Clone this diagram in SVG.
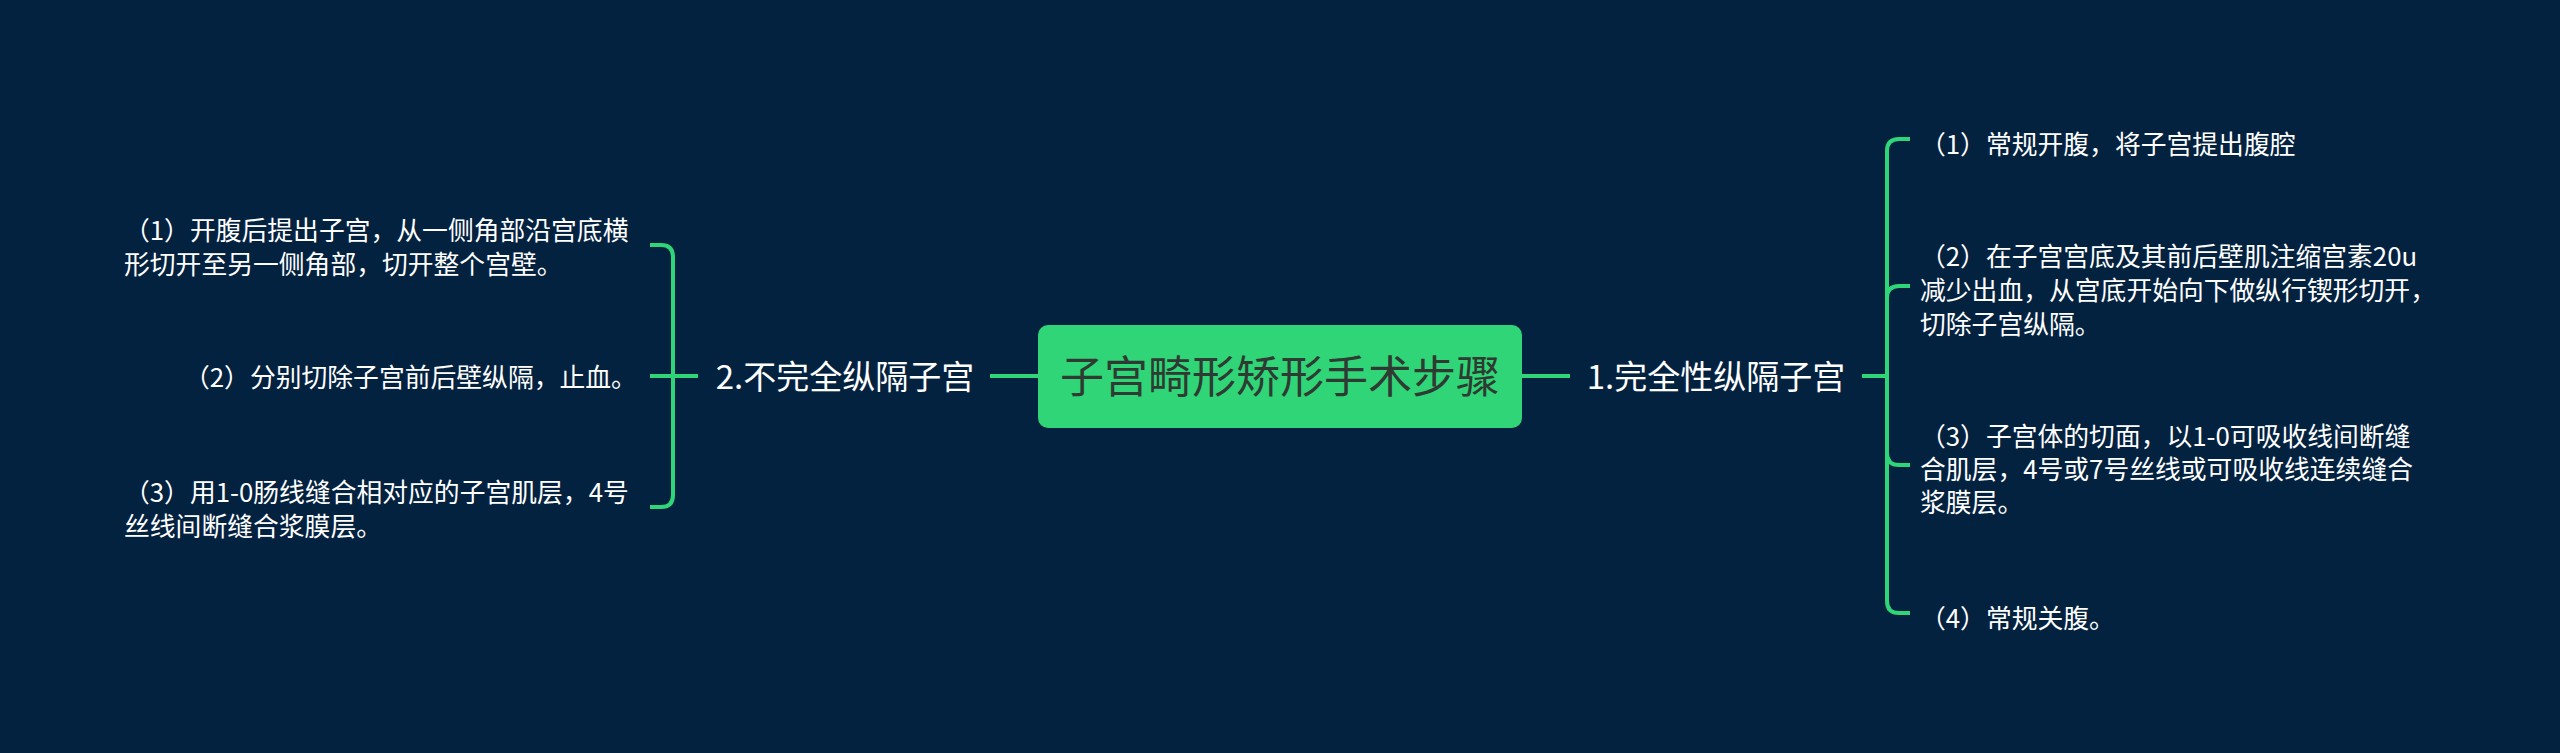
<svg xmlns="http://www.w3.org/2000/svg" width="2560" height="753" viewBox="0 0 2560 753">
<style>
.bg{fill:#03223f}
.ln{fill:none;stroke:#2fd576;stroke-width:4;stroke-linecap:butt}
.t{font-family:"Noto Sans CJK SC","Noto Sans",sans-serif}
.title{font-size:44px;fill:#2f3a33}
.branch{font-size:33px;fill:#ffffff}
.leaf{font-size:25.8px;fill:#ffffff}
</style>
<rect class="bg" x="0" y="0" width="2560" height="753"/>
<g id="connectors">
<path class="ln" d="M1038,376 H990"/>
<path class="ln" d="M1522,376 H1570"/>
<path class="ln" d="M698,376 H673 V257 Q673,245 661,245 H650"/>
<path class="ln" d="M698,376 H650"/>
<path class="ln" d="M698,376 H673 V495 Q673,507 661,507 H650"/>
<path class="ln" d="M1862,376 H1887 V151 Q1887,139 1899,139 H1910"/>
<path class="ln" d="M1862,376 H1887 V298 Q1887,286 1899,286 H1910"/>
<path class="ln" d="M1862,376 H1887 V453 Q1887,465 1899,465 H1910"/>
<path class="ln" d="M1862,376 H1887 V601 Q1887,613 1899,613 H1910"/>
</g>
<g id="root">
<rect x="1038" y="325" width="484" height="103" rx="10" fill="#2fd576"/>
<text class="t title" x="1280" y="393" text-anchor="middle">子宫畸形矫形手术步骤</text>
</g>
<g id="branch-left">
<text class="t branch" x="845" y="389" text-anchor="middle">2.不完全纵隔子宫</text>
</g>
<g id="branch-right">
<text class="t branch" x="1716" y="389" text-anchor="middle">1.完全性纵隔子宫</text>
</g>
<g id="left-1">
<text class="t leaf" x="124" y="240">（1）开腹后提出子宫，从一侧角部沿宫底横</text>
<text class="t leaf" x="124" y="273.5">形切开至另一侧角部，切开整个宫壁。</text>
</g>
<g id="left-2">
<text class="t leaf" x="184" y="387">（2）分别切除子宫前后壁纵隔，止血。</text>
</g>
<g id="left-3">
<text class="t leaf" x="124" y="502">（3）用1-0肠线缝合相对应的子宫肌层，4号</text>
<text class="t leaf" x="124" y="536">丝线间断缝合浆膜层。</text>
</g>
<g id="right-1">
<text class="t leaf" x="1920" y="153.5">（1）常规开腹，将子宫提出腹腔</text>
</g>
<g id="right-2">
<text class="t leaf" x="1920" y="265.5">（2）在子宫宫底及其前后壁肌注缩宫素20u</text>
<text class="t leaf" x="1920" y="299.5">减少出血，从宫底开始向下做纵行锲形切开，</text>
<text class="t leaf" x="1920" y="333.5">切除子宫纵隔。</text>
</g>
<g id="right-3">
<text class="t leaf" x="1920" y="445.5">（3）子宫体的切面，以1-0可吸收线间断缝</text>
<text class="t leaf" x="1920" y="478.5">合肌层，4号或7号丝线或可吸收线连续缝合</text>
<text class="t leaf" x="1920" y="511.5">浆膜层。</text>
</g>
<g id="right-4">
<text class="t leaf" x="1920" y="627.5">（4）常规关腹。</text>
</g>
</svg>
